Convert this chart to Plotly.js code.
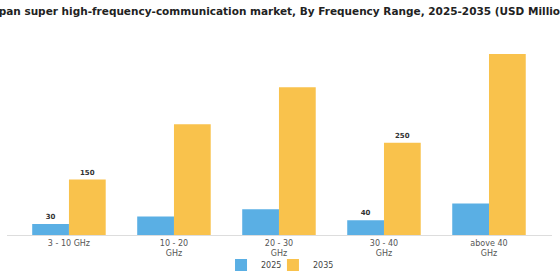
<!DOCTYPE html>
<html>
<head>
<meta charset="utf-8">
<script src="https://cdn.plot.ly/plotly-3.0.1.min.js"></script>
<style>html,body{margin:0;padding:0;background:#fff;}#chart{width:560px;height:280px;}</style>
</head>
<body>
<div id="chart"></div>
<script>
const categories = ["3 - 10 GHz", "10 - 20<br>GHz", "20 - 30<br>GHz", "30 - 40<br>GHz", "above 40<br>GHz"];
const values2025 = [30, 50, 70, 40, 85];
const values2035 = [150, 300, 400, 250, 490];
const labels2025 = ["30", "", "", "40", ""];
const labels2035 = ["150", "", "", "250", ""];

const traces = [
  {
    type: "bar", name: "2025", x: categories, y: values2025,
    marker: {color: "#5aafe4"}, legend: "legend",
    text: labels2025, textposition: "outside", cliponaxis: false,
    textfont: {family: "DejaVu Sans", size: 7, color: "#333", weight: "bold"},
    hoverinfo: "none"
  },
  {
    type: "bar", name: "2035", x: categories, y: values2035,
    marker: {color: "#f9c24c"}, legend: "legend2",
    text: labels2035, textposition: "outside", cliponaxis: false,
    textfont: {family: "DejaVu Sans", size: 7, color: "#333", weight: "bold"},
    hoverinfo: "none"
  }
];

const legendBase = {
  orientation: "h", xanchor: "left", y: -0.154, yanchor: "middle",
  bgcolor: "rgba(0,0,0,0)",
  font: {family: "DejaVu Sans", size: 8, color: "#444"}
};

const layout = {
  width: 560, height: 280,
  margin: {l: 7, r: 8, t: 40, b: 45, autoexpand: false},
  paper_bgcolor: "#fff", plot_bgcolor: "#fff",
  title: {
    text: "Japan super high-frequency-communication market, By Frequency Range, 2025-2035 (USD Million)",
    font: {family: "DejaVu Sans", size: 10.5, color: "#222", weight: "bold"},
    x: 0.5, xanchor: "center", y: 0.96, yanchor: "middle"
  },
  barmode: "group", bargap: 0.3, bargroupgap: 0,
  xaxis: {
    range: [-0.59, 4.6],
    showline: true, linecolor: "#dddddd", linewidth: 1,
    ticks: "", showgrid: false, zeroline: false,
    tickfont: {family: "DejaVu Sans", size: 8, color: "#555"}
  },
  yaxis: {
    range: [0, 528], visible: false, showgrid: false, zeroline: false
  },
  showlegend: true,
  legend: Object.assign({}, legendBase, {x: 0.3927}),
  legend2: Object.assign({}, legendBase, {x: 0.488})
};

Plotly.newPlot("chart", traces, layout, {displayModeBar: false, staticPlot: true});
</script>
</body>
</html>
